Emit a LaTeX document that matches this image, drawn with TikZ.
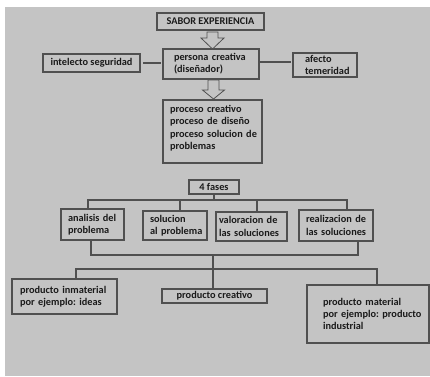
\documentclass[tikz,border=0pt]{standalone}
\usepackage{fontspec}
\setmainfont{Carlito}
\usetikzlibrary{calc}
\definecolor{bg}{HTML}{C4C4C4}
\definecolor{bd}{HTML}{505050}
\definecolor{tx}{HTML}{1A1A1A}
\hyphenpenalty=10000
\exhyphenpenalty=10000
\frenchspacing
\begin{document}
\begin{tikzpicture}[x=1pt,y=-1pt,
  box/.style={draw=bd,line width=1.1pt,fill=bg,text=tx,font=\fontsize{10.3}{12.3}\selectfont\bfseries,inner sep=0pt,outer sep=0pt},
  conn/.style={draw=bd,line width=1.1pt},
  hollow/.style={draw=bd,line width=0.8pt,fill=bg,line join=miter}]
\useasboundingbox (0,0) rectangle (430,376);
\fill[bg] (5,7) rectangle (430,376);

\node[box,minimum width=107pt,minimum height=17pt] (sabor) at (210.5,21.5) {SABOR EXPERIENCIA};
\node[box,minimum width=96pt,minimum height=30pt,text width=74pt,inner xsep=11pt,align=left] (persona) at (211,64) {\mbox{persona creativa}\\\mbox{(diseñador)}};
\node[box,minimum width=97pt,minimum height=18pt] (intel) at (91.5,63) {intelecto seguridad};
\node[box,minimum width=64pt,minimum height=24pt,text width=40pt,inner xsep=12pt,align=left] (afecto) at (325,65) {\mbox{afecto}\\\mbox{temeridad}};
\node[box,minimum width=99pt,minimum height=63pt,text width=85pt,inner xsep=7pt,align=left] (proceso) at (212.5,131.5) {\mbox{proceso creativo}\\\mbox{proceso de diseño}\\\mbox{proceso solucion de}\\\mbox{problemas}\\[-4pt]\mbox{}};
\node[box,minimum width=50pt,minimum height=14pt] (fases) at (214,187) {4 fases};
\node[box,minimum width=63pt,minimum height=31pt,text width=49pt,inner xsep=7pt,align=left] (ana) at (92.5,224.5) {\mbox{analisis del}\\\mbox{problema}};
\node[box,minimum width=64pt,minimum height=29pt,text width=50pt,inner xsep=7pt,align=left] (sol) at (175,225.5) {\mbox{solucion}\\\mbox{al problema}};
\node[box,minimum width=71pt,minimum height=29pt,text width=65pt,inner xsep=3pt,align=left] (val) at (251.5,226.5) {\mbox{valoracion de}\\\mbox{las soluciones}};
\node[box,minimum width=74pt,minimum height=31pt,text width=60pt,inner xsep=7pt,align=left] (rea) at (336,225.5) {\mbox{realizacion de}\\\mbox{las soluciones}};
\node[box,minimum width=105pt,minimum height=35pt,text width=89pt,inner xsep=8pt,align=left] (inm) at (64.5,296.5) {\mbox{producto inmaterial}\\\mbox{por ejemplo: ideas}};
\node[box,minimum width=105pt,minimum height=14pt] (cre) at (214.5,296) {producto creativo};
\node[box,minimum width=122pt,minimum height=58pt,text width=90pt,inner xsep=16pt,align=left] (mat) at (368,314) {\mbox{producto material}\\\mbox{por ejemplo: producto}\\\mbox{industrial}};

% side connectors
\draw[conn,shorten <=3pt,shorten >=2pt] (intel.east) -- (intel.east -| persona.west);
\coordinate (pr) at ($(persona.east)+(0,-2)$);
\draw[conn,shorten >=2pt] (pr) -- (pr -| afecto.west);

% hollow arrows
\draw[hollow] (207,32) -- (218,32) -- (218,38) -- (224,38) -- (212.5,49) -- (201,38) -- (207,38) -- cycle;
\draw[hollow] (208,80) -- (219,80) -- (219,90) -- (224.5,90) -- (213.5,99) -- (202.5,90) -- (208,90) -- cycle;

% tree 1
\coordinate (b1a) at (88,200);
\coordinate (b1b) at (180,200);
\coordinate (b1c) at (257,200);
\coordinate (b1d) at (347,200);
\draw[conn] (fases.south) -- (fases.south |- b1a);
\draw[conn] (b1a |- ana.north) -- (b1a) -- (b1d) -- (b1d |- rea.north);
\draw[conn] (b1b) -- (b1b |- sol.north);
\draw[conn] (b1c) -- (b1c |- val.north);

% tree 2
\coordinate (b2a) at (91,255);
\coordinate (b2b) at (358,255);
\coordinate (b2m) at (213,255);
\draw[conn] (b2a |- ana.south) -- (b2a) -- (b2b) -- (b2b |- rea.south);
\draw[conn] (b2m) -- (b2m |- cre.north);

% tree 3
\coordinate (b3a) at (76,269);
\coordinate (b3b) at (377,269);
\draw[conn] (b3a |- inm.north) -- (b3a) -- (b3b) -- (b3b |- mat.north);
\end{tikzpicture}
\end{document}
